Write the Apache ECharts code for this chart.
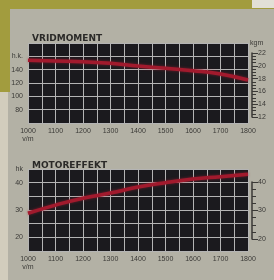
<!DOCTYPE html>
<html>
<head>
<meta charset="utf-8">
<script src="https://cdn.jsdelivr.net/npm/echarts@6/dist/echarts.min.js"></script>
<style>
  html, body { margin: 0; padding: 0; background: #b3b1a5; }
  #chart { width: 274px; height: 280px; }
</style>
</head>
<body>
<div id="chart"></div>
<script>
// varvtal (v/m)
const rpm = [1000, 1100, 1200, 1300, 1400, 1500, 1600, 1700, 1800];
// vridmoment, vänster skala
const torque = [154, 153, 152, 149.5, 145.5, 142, 138.5, 133.5, 124.5];
// motoreffekt (hk)
const power = [28.8, 31.8, 34.3, 36.2, 38.4, 40.0, 41.3, 42.2, 43.1];

const torqueLabels = {160: 'h.k.', 140: '140', 120: '120', 100: '100', 80: '80'};
const powerLabels = {45: 'hk', 40: '40', 30: '30', 20: '20'};
const kgmLabels = [12, 14, 16, 18, 20, 22];
const powerRightLabels = [20, 30, 40];

const labelFont = {color: '#3a3936', fontSize: 7, fontFamily: 'Liberation Sans'};
const lineColor = '#a11a2d';
const gridLineColor = '#b4b4b4';

const xAxisBase = (gridIndex) => ({
  type: 'value',
  gridIndex: gridIndex,
  min: 1000,
  max: 1800,
  interval: 50,
  axisLine: {show: false},
  axisTick: {show: false},
  splitLine: {show: true, lineStyle: {color: gridLineColor, width: 1}},
  axisLabel: {
    ...labelFont,
    margin: 4,
    lineHeight: 8,
    formatter: (v) => {
      if (v % 100 !== 0) return '';
      return v === 1000 ? '1000\nv/m' : String(v);
    }
  }
});

const hiddenX = (gridIndex) => ({
  type: 'value', gridIndex: gridIndex, min: 0, max: 1, show: false
});

const sideAxis = (gridIndex, min, max, interval, values, name) => ({
  type: 'value',
  gridIndex: gridIndex,
  position: 'right',
  min: min,
  max: max,
  interval: interval,
  name: name,
  nameLocation: 'end',
  nameGap: 6,
  nameTextStyle: {...labelFont, fontSize: 7, align: 'left', padding: [0, 0, 0, -2]},
  axisLine: {show: true, lineStyle: {color: '#3a3936', width: 1.5}},
  axisTick: {show: true, length: 6, lineStyle: {color: '#3a3936', width: 1}},
  minorTick: {show: true, splitNumber: 4, length: 4, lineStyle: {color: '#3a3936', width: 1}},
  splitLine: {show: false},
  axisLabel: {
    ...labelFont,
    margin: 5,
    formatter: (v) => values.includes(v) ? String(v) : ''
  }
});

const chart = echarts.init(document.getElementById('chart'));

const option = {
  backgroundColor: '#b3b1a5',
  animation: false,
  graphic: [
    // skannad kant
    {type: 'rect', shape: {x: 0, y: 0, width: 274, height: 9}, style: {fill: '#a29c3e'}, z: -1},
    {type: 'rect', shape: {x: 0, y: 0, width: 10, height: 92}, style: {fill: '#a29c3e'}, z: -1},
    {type: 'rect', shape: {x: 0, y: 92, width: 8, height: 188}, style: {fill: '#d2cdbd'}, z: -1},
    {type: 'rect', shape: {x: 252, y: 0, width: 22, height: 8}, style: {fill: '#e2e0d6'}, z: -1}
  ],
  title: [
    {
      text: 'VRIDMOMENT', left: 27, top: 29,
      textStyle: {fontFamily: 'DejaVu Sans', fontWeight: 'bold', fontSize: 9, color: '#2b2a28'}
    },
    {
      text: 'MOTOREFFEKT', left: 27, top: 156,
      textStyle: {fontFamily: 'DejaVu Sans', fontWeight: 'bold', fontSize: 9, color: '#2b2a28'}
    }
  ],
  grid: [
    {left: 28, top: 43, width: 220, height: 80, show: true, backgroundColor: '#1b1a1e', borderWidth: 0},
    {left: 28, top: 169, width: 220, height: 82, show: true, backgroundColor: '#1b1a1e', borderWidth: 0},
    {left: 252, top: 53, width: 1, height: 64},
    {left: 252, top: 182, width: 1, height: 57}
  ],
  xAxis: [xAxisBase(0), xAxisBase(1), hiddenX(2), hiddenX(3)],
  yAxis: [
    {
      type: 'value', gridIndex: 0, min: 60, max: 180, interval: 20,
      axisLine: {show: false}, axisTick: {show: false},
      splitLine: {show: true, lineStyle: {color: gridLineColor, width: 1}},
      axisLabel: {...labelFont, margin: 5, formatter: (v) => torqueLabels[v] || ''}
    },
    {
      type: 'value', gridIndex: 1, min: 15, max: 45, interval: 5,
      axisLine: {show: false}, axisTick: {show: false},
      splitLine: {show: true, lineStyle: {color: gridLineColor, width: 1}},
      axisLabel: {...labelFont, margin: 5, formatter: (v) => powerLabels[v] || ''}
    },
    sideAxis(2, 12, 22, 2, kgmLabels, 'kgm'),
    sideAxis(3, 20, 40, 10, powerRightLabels, '')
  ],
  series: [
    {
      type: 'line', xAxisIndex: 0, yAxisIndex: 0, smooth: true, symbol: 'none',
      data: rpm.map((r, i) => [r, torque[i]]),
      lineStyle: {color: lineColor, width: 3.5, shadowBlur: 3, shadowColor: 'rgba(170,30,50,0.6)'}
    },
    {
      type: 'line', xAxisIndex: 1, yAxisIndex: 1, smooth: true, symbol: 'none',
      data: rpm.map((r, i) => [r, power[i]]),
      lineStyle: {color: lineColor, width: 3.5, shadowBlur: 3, shadowColor: 'rgba(170,30,50,0.6)'}
    }
  ]
};

chart.setOption(option);
</script>
</body>
</html>
